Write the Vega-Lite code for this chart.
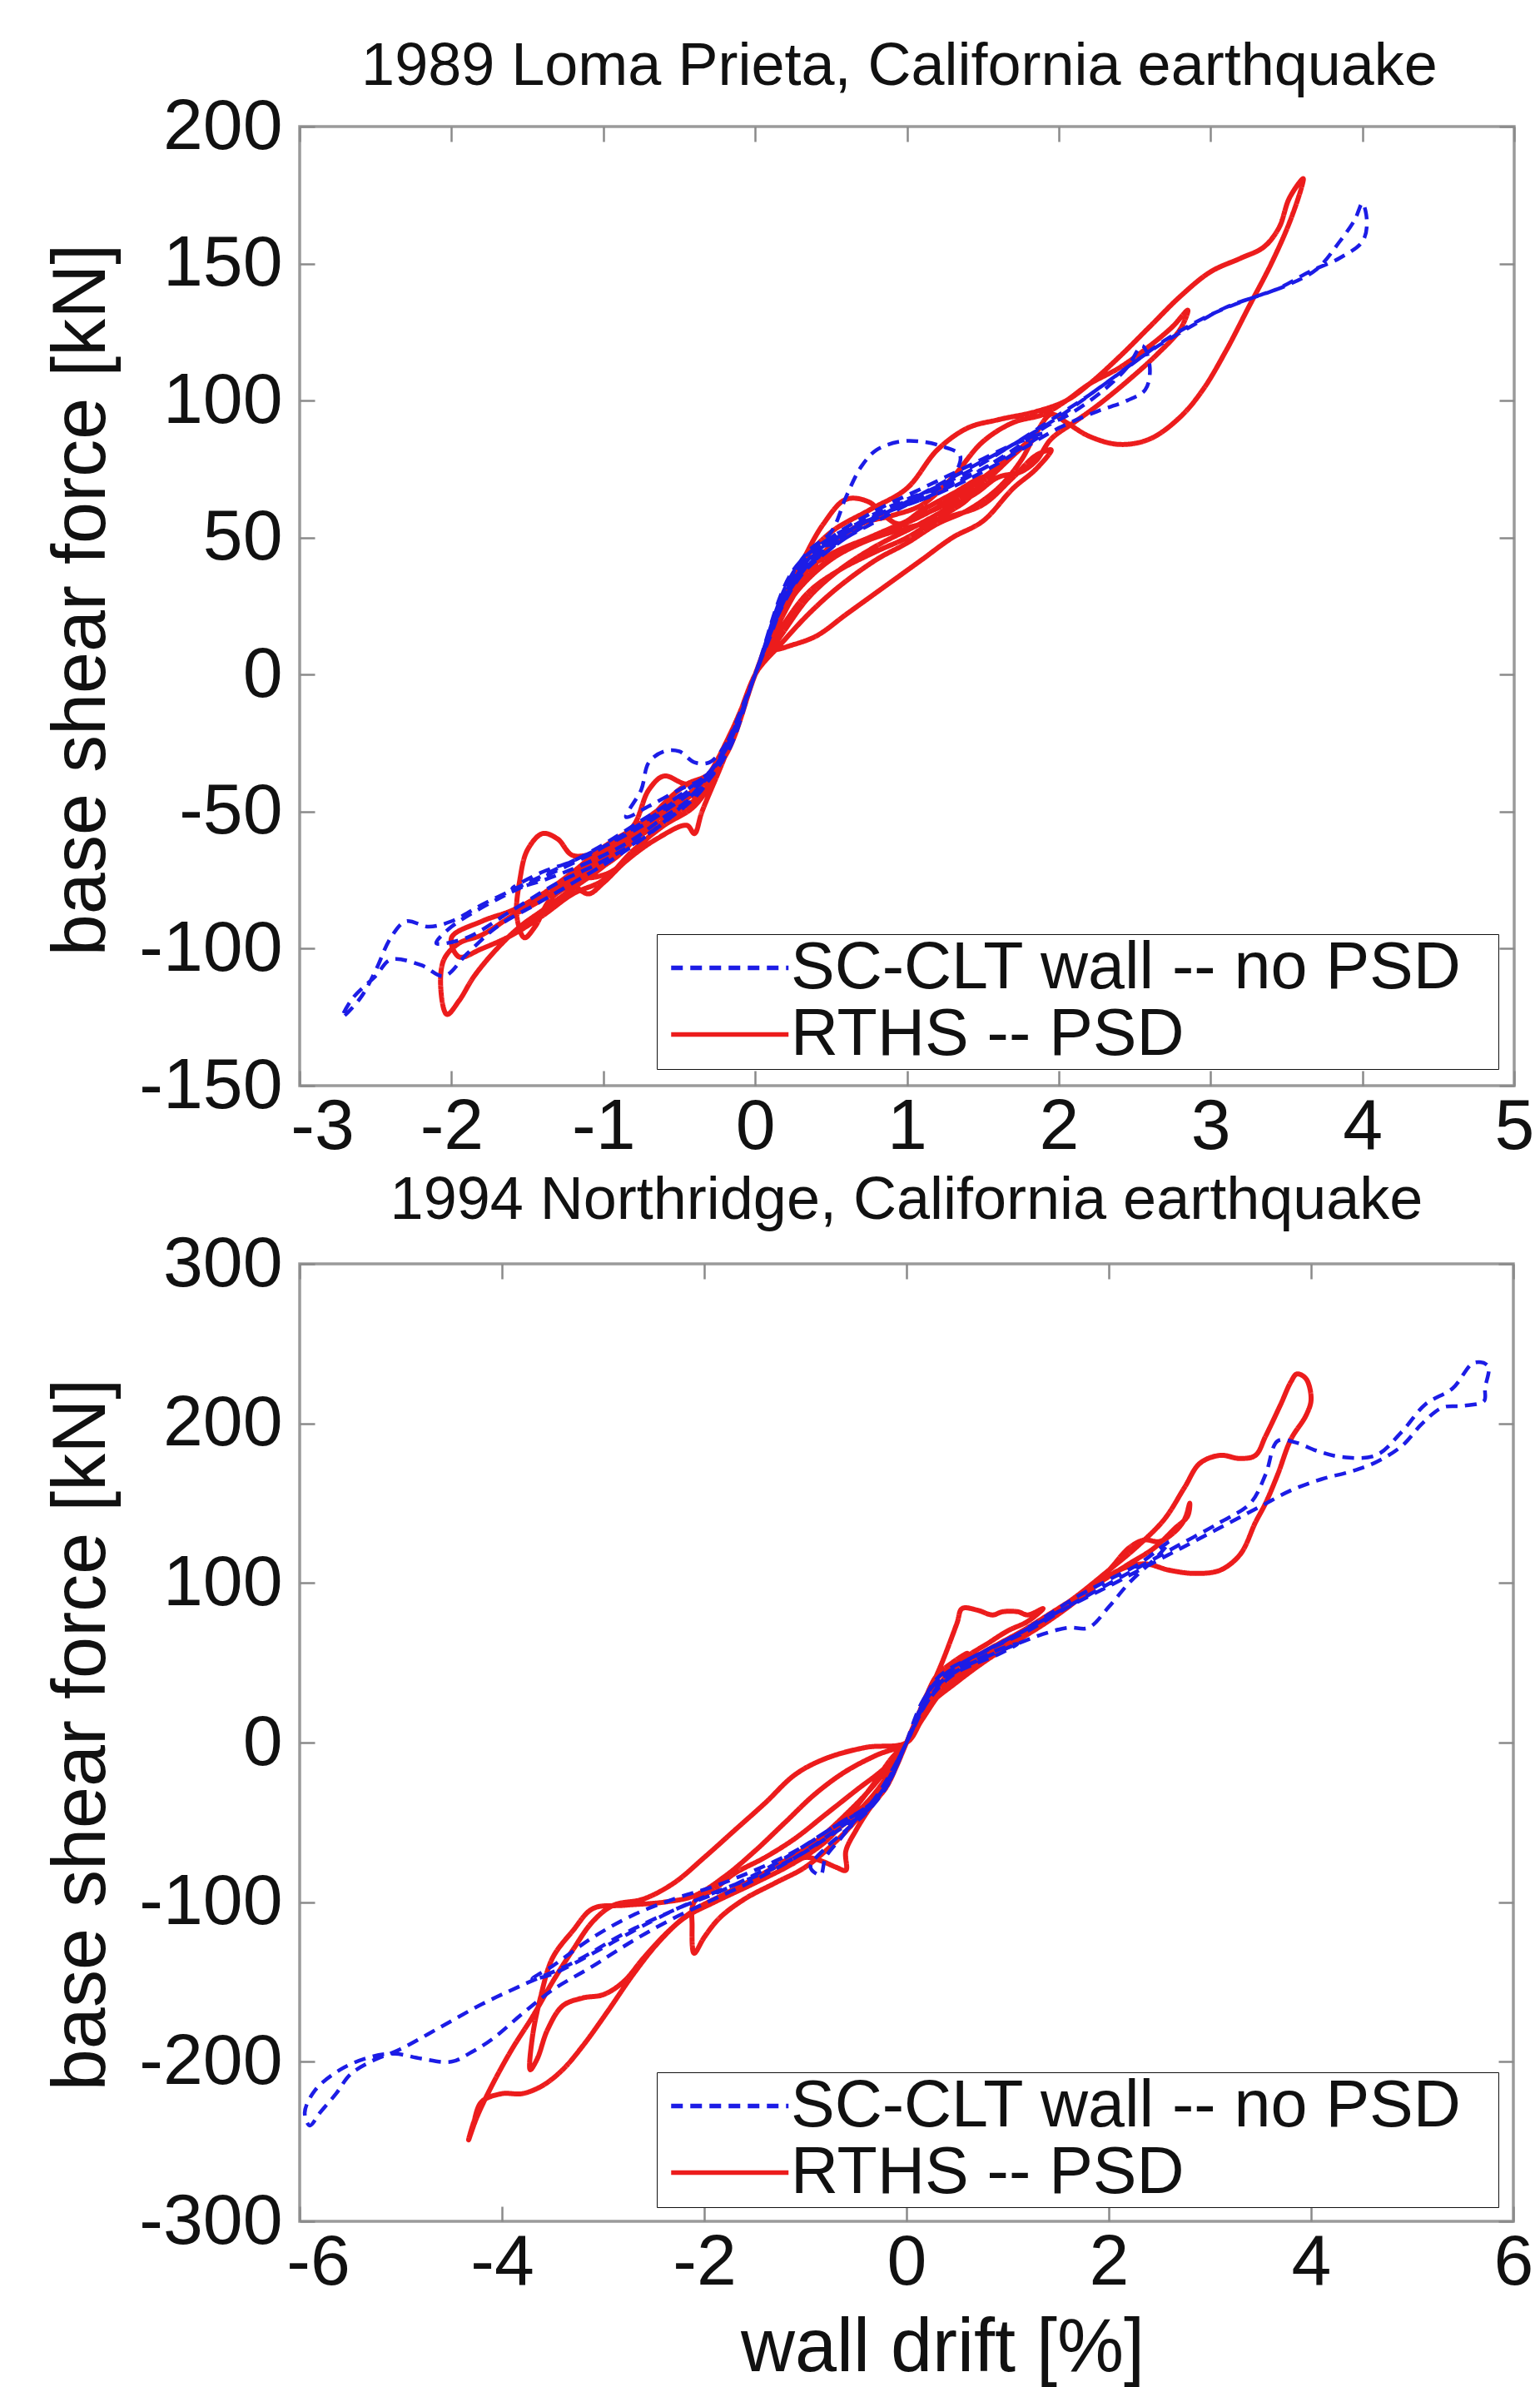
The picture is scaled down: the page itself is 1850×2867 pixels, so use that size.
{
"$schema": "https://vega.github.io/schema/vega-lite/v6.json",
"background": "white",
"padding": {"left": 51, "top": 42, "right": 10, "bottom": 0},
"spacing": 214,
"bounds": "flush",
"resolve": {"scale": {"color": "independent", "strokeDash": "independent"}, "legend": {"color": "independent", "strokeDash": "independent"}},
"config": {
  "font": "Liberation Sans",
  "view": {"stroke": "#9a9a9a", "strokeWidth": 3.5},
  "axis": {"labelFont": "Liberation Sans", "labelFontSize": 86, "labelColor": "#111111", "titleFont": "Liberation Sans", "titleFontSize": 90, "titleFontWeight": "normal", "titleColor": "#111111", "tickColor": "#8a8a8a", "tickWidth": 2.5, "tickSize": -18, "domain": false, "grid": false, "labelFlush": false, "labelOverlap": false, "labelBound": false},
  "axisX": {"labelPadding": 25},
  "axisY": {"labelPadding": 39},
  "legend": {"labelFont": "Liberation Sans", "labelFontSize": 79, "labelColor": "#111111", "symbolType": "M-1,0H3", "symbolSize": 4970, "symbolStrokeWidth": 5.5, "strokeColor": "#111111", "fillColor": "white", "padding": 1, "rowPadding": 0, "symbolOffset": 12, "labelOffset": 69, "labelLimit": 0, "titleOrient": "right", "titlePadding": 40, "titleFontSize": 10, "titleColor": "white"},
  "title": {"font": "Liberation Sans", "fontSize": 72, "fontWeight": "normal", "color": "#111111", "anchor": "middle", "frame": "group", "offset": -8, "baseline": "alphabetic"}
},
"datasets": {
"topR": [
{"s":"RTHS -- PSD","x":0,"y":0},{"s":"RTHS -- PSD","x":0.1,"y":14},{"s":"RTHS -- PSD","x":0.2,"y":28},{"s":"RTHS -- PSD","x":0.3,"y":36},{"s":"RTHS -- PSD","x":0.4,"y":40},{"s":"RTHS -- PSD","x":0.3,"y":33},{"s":"RTHS -- PSD","x":0.15,"y":18},{"s":"RTHS -- PSD","x":0,"y":0},{"s":"RTHS -- PSD","x":-0.1,"y":-14},{"s":"RTHS -- PSD","x":-0.2,"y":-28},{"s":"RTHS -- PSD","x":-0.3,"y":-38},{"s":"RTHS -- PSD","x":-0.4,"y":-45},{"s":"RTHS -- PSD","x":-0.3,"y":-40},{"s":"RTHS -- PSD","x":-0.15,"y":-22},{"s":"RTHS -- PSD","x":0,"y":0},
{"s":"RTHS -- PSD","x":0.15,"y":22},{"s":"RTHS -- PSD","x":0.3,"y":40},{"s":"RTHS -- PSD","x":0.45,"y":55},{"s":"RTHS -- PSD","x":0.6,"y":64},{"s":"RTHS -- PSD","x":0.75,"y":63},{"s":"RTHS -- PSD","x":0.85,"y":58},{"s":"RTHS -- PSD","x":0.95,"y":55},{"s":"RTHS -- PSD","x":1.1,"y":60},{"s":"RTHS -- PSD","x":1.3,"y":66},{"s":"RTHS -- PSD","x":1.5,"y":72},{"s":"RTHS -- PSD","x":1.4,"y":64},{"s":"RTHS -- PSD","x":1.2,"y":57},{"s":"RTHS -- PSD","x":1.0,"y":50},{"s":"RTHS -- PSD","x":0.8,"y":45},{"s":"RTHS -- PSD","x":0.55,"y":38},{"s":"RTHS -- PSD","x":0.35,"y":30},{"s":"RTHS -- PSD","x":0.15,"y":15},{"s":"RTHS -- PSD","x":0,"y":0},
{"s":"RTHS -- PSD","x":-0.15,"y":-22},{"s":"RTHS -- PSD","x":-0.3,"y":-38},{"s":"RTHS -- PSD","x":-0.45,"y":-40},{"s":"RTHS -- PSD","x":-0.6,"y":-37},{"s":"RTHS -- PSD","x":-0.7,"y":-42},{"s":"RTHS -- PSD","x":-0.8,"y":-55},{"s":"RTHS -- PSD","x":-0.95,"y":-62},{"s":"RTHS -- PSD","x":-1.1,"y":-68},{"s":"RTHS -- PSD","x":-1.2,"y":-75},{"s":"RTHS -- PSD","x":-1.1,"y":-80},{"s":"RTHS -- PSD","x":-1.0,"y":-76},{"s":"RTHS -- PSD","x":-0.85,"y":-68},{"s":"RTHS -- PSD","x":-0.65,"y":-60},{"s":"RTHS -- PSD","x":-0.45,"y":-55},{"s":"RTHS -- PSD","x":-0.4,"y":-58},{"s":"RTHS -- PSD","x":-0.35,"y":-50},{"s":"RTHS -- PSD","x":-0.2,"y":-30},{"s":"RTHS -- PSD","x":0,"y":0},
{"s":"RTHS -- PSD","x":0.1,"y":8},{"s":"RTHS -- PSD","x":0.2,"y":10},{"s":"RTHS -- PSD","x":0.4,"y":14},{"s":"RTHS -- PSD","x":0.6,"y":22},{"s":"RTHS -- PSD","x":0.8,"y":30},{"s":"RTHS -- PSD","x":0.95,"y":36},{"s":"RTHS -- PSD","x":1.1,"y":42},{"s":"RTHS -- PSD","x":1.3,"y":50},{"s":"RTHS -- PSD","x":1.5,"y":56},{"s":"RTHS -- PSD","x":1.7,"y":68},{"s":"RTHS -- PSD","x":1.85,"y":75},{"s":"RTHS -- PSD","x":1.95,"y":82},{"s":"RTHS -- PSD","x":1.85,"y":80},{"s":"RTHS -- PSD","x":1.7,"y":72},{"s":"RTHS -- PSD","x":1.5,"y":62},{"s":"RTHS -- PSD","x":1.3,"y":58},{"s":"RTHS -- PSD","x":1.1,"y":55},{"s":"RTHS -- PSD","x":0.9,"y":52},{"s":"RTHS -- PSD","x":0.7,"y":48},{"s":"RTHS -- PSD","x":0.5,"y":42},{"s":"RTHS -- PSD","x":0.3,"y":32},{"s":"RTHS -- PSD","x":0.15,"y":20},{"s":"RTHS -- PSD","x":0,"y":0},
{"s":"RTHS -- PSD","x":-0.2,"y":-30},{"s":"RTHS -- PSD","x":-0.4,"y":-42},{"s":"RTHS -- PSD","x":-0.6,"y":-50},{"s":"RTHS -- PSD","x":-0.8,"y":-58},{"s":"RTHS -- PSD","x":-1.0,"y":-64},{"s":"RTHS -- PSD","x":-1.2,"y":-66},{"s":"RTHS -- PSD","x":-1.3,"y":-60},{"s":"RTHS -- PSD","x":-1.4,"y":-58},{"s":"RTHS -- PSD","x":-1.5,"y":-64},{"s":"RTHS -- PSD","x":-1.55,"y":-75},{"s":"RTHS -- PSD","x":-1.57,"y":-88},{"s":"RTHS -- PSD","x":-1.52,"y":-96},{"s":"RTHS -- PSD","x":-1.45,"y":-92},{"s":"RTHS -- PSD","x":-1.35,"y":-82},{"s":"RTHS -- PSD","x":-1.2,"y":-76},{"s":"RTHS -- PSD","x":-1.05,"y":-70},{"s":"RTHS -- PSD","x":-0.85,"y":-62},{"s":"RTHS -- PSD","x":-0.65,"y":-55},{"s":"RTHS -- PSD","x":-0.45,"y":-48},{"s":"RTHS -- PSD","x":-0.3,"y":-40},{"s":"RTHS -- PSD","x":-0.15,"y":-22},{"s":"RTHS -- PSD","x":0,"y":0},
{"s":"RTHS -- PSD","x":0.15,"y":20},{"s":"RTHS -- PSD","x":0.3,"y":35},{"s":"RTHS -- PSD","x":0.5,"y":47},{"s":"RTHS -- PSD","x":0.7,"y":55},{"s":"RTHS -- PSD","x":0.9,"y":58},{"s":"RTHS -- PSD","x":1.1,"y":62},{"s":"RTHS -- PSD","x":1.3,"y":72},{"s":"RTHS -- PSD","x":1.5,"y":85},{"s":"RTHS -- PSD","x":1.7,"y":92},{"s":"RTHS -- PSD","x":1.9,"y":95},{"s":"RTHS -- PSD","x":2.05,"y":100},{"s":"RTHS -- PSD","x":2.2,"y":106},{"s":"RTHS -- PSD","x":2.4,"y":112},{"s":"RTHS -- PSD","x":2.6,"y":120},{"s":"RTHS -- PSD","x":2.75,"y":127},{"s":"RTHS -- PSD","x":2.85,"y":133},{"s":"RTHS -- PSD","x":2.8,"y":126},{"s":"RTHS -- PSD","x":2.65,"y":117},{"s":"RTHS -- PSD","x":2.45,"y":107},{"s":"RTHS -- PSD","x":2.25,"y":98},{"s":"RTHS -- PSD","x":2.1,"y":92},{"s":"RTHS -- PSD","x":1.95,"y":86},{"s":"RTHS -- PSD","x":1.85,"y":78},{"s":"RTHS -- PSD","x":1.75,"y":74},{"s":"RTHS -- PSD","x":1.6,"y":72},{"s":"RTHS -- PSD","x":1.45,"y":66},{"s":"RTHS -- PSD","x":1.25,"y":60},{"s":"RTHS -- PSD","x":1.05,"y":54},{"s":"RTHS -- PSD","x":0.8,"y":47},{"s":"RTHS -- PSD","x":0.55,"y":38},{"s":"RTHS -- PSD","x":0.35,"y":28},{"s":"RTHS -- PSD","x":0.18,"y":15},{"s":"RTHS -- PSD","x":0,"y":0},
{"s":"RTHS -- PSD","x":-0.2,"y":-28},{"s":"RTHS -- PSD","x":-0.4,"y":-42},{"s":"RTHS -- PSD","x":-0.65,"y":-52},{"s":"RTHS -- PSD","x":-0.9,"y":-62},{"s":"RTHS -- PSD","x":-1.15,"y":-72},{"s":"RTHS -- PSD","x":-1.4,"y":-82},{"s":"RTHS -- PSD","x":-1.6,"y":-88},{"s":"RTHS -- PSD","x":-1.8,"y":-95},{"s":"RTHS -- PSD","x":-1.95,"y":-98},{"s":"RTHS -- PSD","x":-2.05,"y":-104},{"s":"RTHS -- PSD","x":-2.07,"y":-115},{"s":"RTHS -- PSD","x":-2.03,"y":-124},{"s":"RTHS -- PSD","x":-1.95,"y":-119},{"s":"RTHS -- PSD","x":-1.85,"y":-110},{"s":"RTHS -- PSD","x":-1.7,"y":-100},{"s":"RTHS -- PSD","x":-1.55,"y":-92},{"s":"RTHS -- PSD","x":-1.4,"y":-86},{"s":"RTHS -- PSD","x":-1.2,"y":-78},{"s":"RTHS -- PSD","x":-1.0,"y":-70},{"s":"RTHS -- PSD","x":-0.8,"y":-60},{"s":"RTHS -- PSD","x":-0.6,"y":-47},{"s":"RTHS -- PSD","x":-0.45,"y":-40},{"s":"RTHS -- PSD","x":-0.3,"y":-36},{"s":"RTHS -- PSD","x":-0.15,"y":-20},{"s":"RTHS -- PSD","x":0,"y":0},
{"s":"RTHS -- PSD","x":0.15,"y":22},{"s":"RTHS -- PSD","x":0.3,"y":40},{"s":"RTHS -- PSD","x":0.5,"y":52},{"s":"RTHS -- PSD","x":0.75,"y":60},{"s":"RTHS -- PSD","x":1.0,"y":68},{"s":"RTHS -- PSD","x":1.2,"y":82},{"s":"RTHS -- PSD","x":1.4,"y":90},{"s":"RTHS -- PSD","x":1.6,"y":93},{"s":"RTHS -- PSD","x":1.85,"y":96},{"s":"RTHS -- PSD","x":2.05,"y":100},{"s":"RTHS -- PSD","x":2.2,"y":106},{"s":"RTHS -- PSD","x":2.4,"y":116},{"s":"RTHS -- PSD","x":2.6,"y":127},{"s":"RTHS -- PSD","x":2.8,"y":138},{"s":"RTHS -- PSD","x":3.0,"y":147},{"s":"RTHS -- PSD","x":3.2,"y":152},{"s":"RTHS -- PSD","x":3.35,"y":156},{"s":"RTHS -- PSD","x":3.45,"y":163},{"s":"RTHS -- PSD","x":3.52,"y":174},{"s":"RTHS -- PSD","x":3.61,"y":181},{"s":"RTHS -- PSD","x":3.6,"y":178},{"s":"RTHS -- PSD","x":3.52,"y":165},{"s":"RTHS -- PSD","x":3.4,"y":150},{"s":"RTHS -- PSD","x":3.25,"y":134},{"s":"RTHS -- PSD","x":3.1,"y":118},{"s":"RTHS -- PSD","x":2.95,"y":104},{"s":"RTHS -- PSD","x":2.8,"y":94},{"s":"RTHS -- PSD","x":2.6,"y":86},{"s":"RTHS -- PSD","x":2.4,"y":84},{"s":"RTHS -- PSD","x":2.2,"y":87},{"s":"RTHS -- PSD","x":2.05,"y":92},{"s":"RTHS -- PSD","x":1.95,"y":95},{"s":"RTHS -- PSD","x":1.85,"y":88},{"s":"RTHS -- PSD","x":1.75,"y":78},{"s":"RTHS -- PSD","x":1.6,"y":68},{"s":"RTHS -- PSD","x":1.4,"y":60},{"s":"RTHS -- PSD","x":1.2,"y":55},{"s":"RTHS -- PSD","x":1.0,"y":48},{"s":"RTHS -- PSD","x":0.8,"y":42},{"s":"RTHS -- PSD","x":0.55,"y":32},{"s":"RTHS -- PSD","x":0.35,"y":22},{"s":"RTHS -- PSD","x":0.15,"y":10},{"s":"RTHS -- PSD","x":0.05,"y":4},{"s":"RTHS -- PSD","x":0,"y":0},
{"s":"RTHS -- PSD","x":-0.2,"y":-28},{"s":"RTHS -- PSD","x":-0.4,"y":-42},{"s":"RTHS -- PSD","x":-0.6,"y":-48},{"s":"RTHS -- PSD","x":-0.8,"y":-56},{"s":"RTHS -- PSD","x":-1.0,"y":-63},{"s":"RTHS -- PSD","x":-1.2,"y":-72},{"s":"RTHS -- PSD","x":-1.4,"y":-80},{"s":"RTHS -- PSD","x":-1.6,"y":-86},{"s":"RTHS -- PSD","x":-1.8,"y":-90},{"s":"RTHS -- PSD","x":-2.0,"y":-96},{"s":"RTHS -- PSD","x":-1.95,"y":-103},{"s":"RTHS -- PSD","x":-1.8,"y":-100},{"s":"RTHS -- PSD","x":-1.6,"y":-95},
{"s":"RTHS -- PSD","x":-1.4,"y":-88},{"s":"RTHS -- PSD","x":-1.2,"y":-80},{"s":"RTHS -- PSD","x":-1.0,"y":-75},{"s":"RTHS -- PSD","x":-0.8,"y":-64},{"s":"RTHS -- PSD","x":-0.6,"y":-55},{"s":"RTHS -- PSD","x":-0.4,"y":-48},{"s":"RTHS -- PSD","x":-0.25,"y":-35},{"s":"RTHS -- PSD","x":0,"y":0},{"s":"RTHS -- PSD","x":0.2,"y":25},{"s":"RTHS -- PSD","x":0.4,"y":38},{"s":"RTHS -- PSD","x":0.6,"y":46},{"s":"RTHS -- PSD","x":0.85,"y":52},{"s":"RTHS -- PSD","x":1.1,"y":58},{"s":"RTHS -- PSD","x":1.35,"y":66},{"s":"RTHS -- PSD","x":1.6,"y":76},{"s":"RTHS -- PSD","x":1.8,"y":85},{"s":"RTHS -- PSD","x":1.7,"y":80},{"s":"RTHS -- PSD","x":1.5,"y":70},{"s":"RTHS -- PSD","x":1.25,"y":62},{"s":"RTHS -- PSD","x":1.0,"y":56},{"s":"RTHS -- PSD","x":0.75,"y":50},{"s":"RTHS -- PSD","x":0.5,"y":44},{"s":"RTHS -- PSD","x":0.3,"y":36},{"s":"RTHS -- PSD","x":0.1,"y":12},{"s":"RTHS -- PSD","x":0,"y":0},{"s":"RTHS -- PSD","x":-0.2,"y":-30},{"s":"RTHS -- PSD","x":-0.45,"y":-45},{"s":"RTHS -- PSD","x":-0.7,"y":-55},{"s":"RTHS -- PSD","x":-0.9,"y":-66},{"s":"RTHS -- PSD","x":-1.1,"y":-74},{"s":"RTHS -- PSD","x":-0.95,"y":-72},{"s":"RTHS -- PSD","x":-0.75,"y":-62},{"s":"RTHS -- PSD","x":-0.55,"y":-50},{"s":"RTHS -- PSD","x":-0.35,"y":-40},{"s":"RTHS -- PSD","x":-0.15,"y":-20},{"s":"RTHS -- PSD","x":0,"y":0}
],
"topB": [
{"s":"SC-CLT wall -- no PSD","x":0,"y":0},{"s":"SC-CLT wall -- no PSD","x":0.1,"y":16},{"s":"SC-CLT wall -- no PSD","x":0.2,"y":30},{"s":"SC-CLT wall -- no PSD","x":0.3,"y":38},{"s":"SC-CLT wall -- no PSD","x":0.4,"y":42},{"s":"SC-CLT wall -- no PSD","x":0.5,"y":48},{"s":"SC-CLT wall -- no PSD","x":0.6,"y":52},{"s":"SC-CLT wall -- no PSD","x":0.5,"y":46},{"s":"SC-CLT wall -- no PSD","x":0.35,"y":40},{"s":"SC-CLT wall -- no PSD","x":0.2,"y":28},{"s":"SC-CLT wall -- no PSD","x":0.1,"y":14},{"s":"SC-CLT wall -- no PSD","x":0,"y":0},
{"s":"SC-CLT wall -- no PSD","x":-0.1,"y":-15},{"s":"SC-CLT wall -- no PSD","x":-0.2,"y":-26},{"s":"SC-CLT wall -- no PSD","x":-0.3,"y":-32},{"s":"SC-CLT wall -- no PSD","x":-0.4,"y":-32},{"s":"SC-CLT wall -- no PSD","x":-0.5,"y":-28},{"s":"SC-CLT wall -- no PSD","x":-0.6,"y":-28},{"s":"SC-CLT wall -- no PSD","x":-0.7,"y":-32},{"s":"SC-CLT wall -- no PSD","x":-0.75,"y":-42},{"s":"SC-CLT wall -- no PSD","x":-0.85,"y":-52},{"s":"SC-CLT wall -- no PSD","x":-0.7,"y":-48},{"s":"SC-CLT wall -- no PSD","x":-0.5,"y":-42},{"s":"SC-CLT wall -- no PSD","x":-0.35,"y":-38},{"s":"SC-CLT wall -- no PSD","x":-0.2,"y":-28},{"s":"SC-CLT wall -- no PSD","x":0,"y":0},
{"s":"SC-CLT wall -- no PSD","x":0.2,"y":32},{"s":"SC-CLT wall -- no PSD","x":0.35,"y":45},{"s":"SC-CLT wall -- no PSD","x":0.5,"y":52},{"s":"SC-CLT wall -- no PSD","x":0.6,"y":65},{"s":"SC-CLT wall -- no PSD","x":0.7,"y":76},{"s":"SC-CLT wall -- no PSD","x":0.8,"y":82},{"s":"SC-CLT wall -- no PSD","x":0.95,"y":85},{"s":"SC-CLT wall -- no PSD","x":1.1,"y":85},{"s":"SC-CLT wall -- no PSD","x":1.25,"y":83},{"s":"SC-CLT wall -- no PSD","x":1.35,"y":80},{"s":"SC-CLT wall -- no PSD","x":1.3,"y":72},{"s":"SC-CLT wall -- no PSD","x":1.15,"y":66},{"s":"SC-CLT wall -- no PSD","x":1.0,"y":62},{"s":"SC-CLT wall -- no PSD","x":0.8,"y":56},{"s":"SC-CLT wall -- no PSD","x":0.6,"y":50},{"s":"SC-CLT wall -- no PSD","x":0.4,"y":43},{"s":"SC-CLT wall -- no PSD","x":0.2,"y":28},{"s":"SC-CLT wall -- no PSD","x":0,"y":0},
{"s":"SC-CLT wall -- no PSD","x":-0.2,"y":-30},{"s":"SC-CLT wall -- no PSD","x":-0.4,"y":-40},{"s":"SC-CLT wall -- no PSD","x":-0.6,"y":-48},{"s":"SC-CLT wall -- no PSD","x":-0.8,"y":-55},{"s":"SC-CLT wall -- no PSD","x":-1.0,"y":-62},{"s":"SC-CLT wall -- no PSD","x":-1.2,"y":-68},{"s":"SC-CLT wall -- no PSD","x":-1.4,"y":-72},{"s":"SC-CLT wall -- no PSD","x":-1.6,"y":-78},{"s":"SC-CLT wall -- no PSD","x":-1.45,"y":-76},{"s":"SC-CLT wall -- no PSD","x":-1.25,"y":-72},{"s":"SC-CLT wall -- no PSD","x":-1.0,"y":-66},{"s":"SC-CLT wall -- no PSD","x":-0.8,"y":-60},{"s":"SC-CLT wall -- no PSD","x":-0.6,"y":-52},{"s":"SC-CLT wall -- no PSD","x":-0.4,"y":-44},{"s":"SC-CLT wall -- no PSD","x":-0.2,"y":-30},{"s":"SC-CLT wall -- no PSD","x":0,"y":0},
{"s":"SC-CLT wall -- no PSD","x":0.25,"y":38},{"s":"SC-CLT wall -- no PSD","x":0.5,"y":50},{"s":"SC-CLT wall -- no PSD","x":0.8,"y":58},{"s":"SC-CLT wall -- no PSD","x":1.1,"y":64},{"s":"SC-CLT wall -- no PSD","x":1.4,"y":72},{"s":"SC-CLT wall -- no PSD","x":1.7,"y":82},{"s":"SC-CLT wall -- no PSD","x":1.9,"y":90},{"s":"SC-CLT wall -- no PSD","x":2.1,"y":96},{"s":"SC-CLT wall -- no PSD","x":2.3,"y":104},{"s":"SC-CLT wall -- no PSD","x":2.45,"y":112},{"s":"SC-CLT wall -- no PSD","x":2.55,"y":120},{"s":"SC-CLT wall -- no PSD","x":2.6,"y":112},{"s":"SC-CLT wall -- no PSD","x":2.57,"y":104},{"s":"SC-CLT wall -- no PSD","x":2.45,"y":100},{"s":"SC-CLT wall -- no PSD","x":2.25,"y":96},{"s":"SC-CLT wall -- no PSD","x":2.0,"y":90},{"s":"SC-CLT wall -- no PSD","x":1.75,"y":82},{"s":"SC-CLT wall -- no PSD","x":1.5,"y":74},{"s":"SC-CLT wall -- no PSD","x":1.2,"y":66},{"s":"SC-CLT wall -- no PSD","x":0.9,"y":60},{"s":"SC-CLT wall -- no PSD","x":0.6,"y":52},{"s":"SC-CLT wall -- no PSD","x":0.35,"y":42},{"s":"SC-CLT wall -- no PSD","x":0.15,"y":22},{"s":"SC-CLT wall -- no PSD","x":0,"y":0},
{"s":"SC-CLT wall -- no PSD","x":-0.3,"y":-36},{"s":"SC-CLT wall -- no PSD","x":-0.6,"y":-50},{"s":"SC-CLT wall -- no PSD","x":-0.9,"y":-60},{"s":"SC-CLT wall -- no PSD","x":-1.2,"y":-68},{"s":"SC-CLT wall -- no PSD","x":-1.5,"y":-76},{"s":"SC-CLT wall -- no PSD","x":-1.8,"y":-84},{"s":"SC-CLT wall -- no PSD","x":-2.0,"y":-90},{"s":"SC-CLT wall -- no PSD","x":-2.15,"y":-92},{"s":"SC-CLT wall -- no PSD","x":-2.3,"y":-90},{"s":"SC-CLT wall -- no PSD","x":-2.4,"y":-96},{"s":"SC-CLT wall -- no PSD","x":-2.5,"y":-108},{"s":"SC-CLT wall -- no PSD","x":-2.6,"y":-118},{"s":"SC-CLT wall -- no PSD","x":-2.72,"y":-125},{"s":"SC-CLT wall -- no PSD","x":-2.65,"y":-118},{"s":"SC-CLT wall -- no PSD","x":-2.5,"y":-110},{"s":"SC-CLT wall -- no PSD","x":-2.4,"y":-104},{"s":"SC-CLT wall -- no PSD","x":-2.2,"y":-106},{"s":"SC-CLT wall -- no PSD","x":-2.05,"y":-110},{"s":"SC-CLT wall -- no PSD","x":-1.9,"y":-102},{"s":"SC-CLT wall -- no PSD","x":-1.7,"y":-92},{"s":"SC-CLT wall -- no PSD","x":-1.45,"y":-84},{"s":"SC-CLT wall -- no PSD","x":-1.2,"y":-76},{"s":"SC-CLT wall -- no PSD","x":-0.9,"y":-66},{"s":"SC-CLT wall -- no PSD","x":-0.6,"y":-54},{"s":"SC-CLT wall -- no PSD","x":-0.35,"y":-42},{"s":"SC-CLT wall -- no PSD","x":-0.15,"y":-22},{"s":"SC-CLT wall -- no PSD","x":0,"y":0},
{"s":"SC-CLT wall -- no PSD","x":0.25,"y":36},{"s":"SC-CLT wall -- no PSD","x":0.5,"y":48},{"s":"SC-CLT wall -- no PSD","x":0.8,"y":58},{"s":"SC-CLT wall -- no PSD","x":1.1,"y":66},{"s":"SC-CLT wall -- no PSD","x":1.4,"y":74},{"s":"SC-CLT wall -- no PSD","x":1.7,"y":84},{"s":"SC-CLT wall -- no PSD","x":2.0,"y":94},{"s":"SC-CLT wall -- no PSD","x":2.3,"y":106},{"s":"SC-CLT wall -- no PSD","x":2.6,"y":118},{"s":"SC-CLT wall -- no PSD","x":2.9,"y":128},{"s":"SC-CLT wall -- no PSD","x":3.1,"y":134},{"s":"SC-CLT wall -- no PSD","x":3.3,"y":138},{"s":"SC-CLT wall -- no PSD","x":3.5,"y":142},{"s":"SC-CLT wall -- no PSD","x":3.7,"y":148},{"s":"SC-CLT wall -- no PSD","x":3.85,"y":158},{"s":"SC-CLT wall -- no PSD","x":3.95,"y":166},{"s":"SC-CLT wall -- no PSD","x":4.0,"y":172},{"s":"SC-CLT wall -- no PSD","x":4.03,"y":165},{"s":"SC-CLT wall -- no PSD","x":4.0,"y":158},{"s":"SC-CLT wall -- no PSD","x":3.85,"y":152},{"s":"SC-CLT wall -- no PSD","x":3.65,"y":147},{"s":"SC-CLT wall -- no PSD","x":3.45,"y":141},{"s":"SC-CLT wall -- no PSD","x":3.2,"y":136},{"s":"SC-CLT wall -- no PSD","x":2.95,"y":130},{"s":"SC-CLT wall -- no PSD","x":2.7,"y":122},{"s":"SC-CLT wall -- no PSD","x":2.45,"y":112},{"s":"SC-CLT wall -- no PSD","x":2.2,"y":102},{"s":"SC-CLT wall -- no PSD","x":1.95,"y":93},{"s":"SC-CLT wall -- no PSD","x":1.7,"y":84},{"s":"SC-CLT wall -- no PSD","x":1.4,"y":75},{"s":"SC-CLT wall -- no PSD","x":1.1,"y":66},{"s":"SC-CLT wall -- no PSD","x":0.8,"y":57},{"s":"SC-CLT wall -- no PSD","x":0.5,"y":46},{"s":"SC-CLT wall -- no PSD","x":0.3,"y":36},{"s":"SC-CLT wall -- no PSD","x":0.12,"y":18},{"s":"SC-CLT wall -- no PSD","x":0,"y":0},
{"s":"SC-CLT wall -- no PSD","x":-0.25,"y":-32},{"s":"SC-CLT wall -- no PSD","x":-0.5,"y":-45},{"s":"SC-CLT wall -- no PSD","x":-0.8,"y":-56},{"s":"SC-CLT wall -- no PSD","x":-1.1,"y":-66},{"s":"SC-CLT wall -- no PSD","x":-1.4,"y":-74},{"s":"SC-CLT wall -- no PSD","x":-1.7,"y":-82},{"s":"SC-CLT wall -- no PSD","x":-2.0,"y":-92},{"s":"SC-CLT wall -- no PSD","x":-2.1,"y":-98},
{"s":"SC-CLT wall -- no PSD","x":-1.9,"y":-96},{"s":"SC-CLT wall -- no PSD","x":-1.6,"y":-86},{"s":"SC-CLT wall -- no PSD","x":-1.3,"y":-76},{"s":"SC-CLT wall -- no PSD","x":-1.0,"y":-68},{"s":"SC-CLT wall -- no PSD","x":-0.7,"y":-58},{"s":"SC-CLT wall -- no PSD","x":-0.45,"y":-46},{"s":"SC-CLT wall -- no PSD","x":-0.2,"y":-28},{"s":"SC-CLT wall -- no PSD","x":0,"y":0},{"s":"SC-CLT wall -- no PSD","x":0.2,"y":30},{"s":"SC-CLT wall -- no PSD","x":0.4,"y":44},{"s":"SC-CLT wall -- no PSD","x":0.7,"y":56},{"s":"SC-CLT wall -- no PSD","x":1.0,"y":64},{"s":"SC-CLT wall -- no PSD","x":1.3,"y":70},{"s":"SC-CLT wall -- no PSD","x":1.6,"y":78},{"s":"SC-CLT wall -- no PSD","x":1.9,"y":88},{"s":"SC-CLT wall -- no PSD","x":1.7,"y":84},{"s":"SC-CLT wall -- no PSD","x":1.4,"y":76},{"s":"SC-CLT wall -- no PSD","x":1.1,"y":68},{"s":"SC-CLT wall -- no PSD","x":0.8,"y":60},{"s":"SC-CLT wall -- no PSD","x":0.5,"y":50},{"s":"SC-CLT wall -- no PSD","x":0.3,"y":40},{"s":"SC-CLT wall -- no PSD","x":0.1,"y":15},{"s":"SC-CLT wall -- no PSD","x":0,"y":0}
],
"botR": [
{"s":"RTHS -- PSD","x":0,"y":0},{"s":"RTHS -- PSD","x":0.1,"y":15},{"s":"RTHS -- PSD","x":0.2,"y":30},{"s":"RTHS -- PSD","x":0.3,"y":42},{"s":"RTHS -- PSD","x":0.45,"y":50},{"s":"RTHS -- PSD","x":0.6,"y":56},{"s":"RTHS -- PSD","x":0.5,"y":50},{"s":"RTHS -- PSD","x":0.3,"y":40},{"s":"RTHS -- PSD","x":0.15,"y":22},{"s":"RTHS -- PSD","x":0,"y":0},
{"s":"RTHS -- PSD","x":-0.1,"y":-15},{"s":"RTHS -- PSD","x":-0.2,"y":-28},{"s":"RTHS -- PSD","x":-0.35,"y":-40},{"s":"RTHS -- PSD","x":-0.5,"y":-55},{"s":"RTHS -- PSD","x":-0.6,"y":-68},{"s":"RTHS -- PSD","x":-0.6,"y":-80},{"s":"RTHS -- PSD","x":-0.7,"y":-78},{"s":"RTHS -- PSD","x":-0.85,"y":-74},{"s":"RTHS -- PSD","x":-1.0,"y":-72},{"s":"RTHS -- PSD","x":-1.2,"y":-78},{"s":"RTHS -- PSD","x":-1.0,"y":-70},{"s":"RTHS -- PSD","x":-0.8,"y":-60},{"s":"RTHS -- PSD","x":-0.6,"y":-50},{"s":"RTHS -- PSD","x":-0.4,"y":-38},{"s":"RTHS -- PSD","x":-0.2,"y":-22},{"s":"RTHS -- PSD","x":0,"y":0},
{"s":"RTHS -- PSD","x":0.1,"y":12},{"s":"RTHS -- PSD","x":0.2,"y":28},{"s":"RTHS -- PSD","x":0.35,"y":50},{"s":"RTHS -- PSD","x":0.5,"y":75},{"s":"RTHS -- PSD","x":0.55,"y":84},{"s":"RTHS -- PSD","x":0.7,"y":83},{"s":"RTHS -- PSD","x":0.85,"y":80},{"s":"RTHS -- PSD","x":0.95,"y":82},{"s":"RTHS -- PSD","x":1.1,"y":82},{"s":"RTHS -- PSD","x":1.2,"y":80},{"s":"RTHS -- PSD","x":1.35,"y":84},{"s":"RTHS -- PSD","x":1.2,"y":76},{"s":"RTHS -- PSD","x":1.0,"y":70},{"s":"RTHS -- PSD","x":0.8,"y":62},{"s":"RTHS -- PSD","x":0.6,"y":54},{"s":"RTHS -- PSD","x":0.4,"y":42},{"s":"RTHS -- PSD","x":0.2,"y":25},{"s":"RTHS -- PSD","x":0,"y":0},
{"s":"RTHS -- PSD","x":-0.2,"y":-15},{"s":"RTHS -- PSD","x":-0.5,"y":-30},{"s":"RTHS -- PSD","x":-0.8,"y":-45},{"s":"RTHS -- PSD","x":-1.1,"y":-60},{"s":"RTHS -- PSD","x":-1.4,"y":-72},{"s":"RTHS -- PSD","x":-1.7,"y":-82},{"s":"RTHS -- PSD","x":-1.9,"y":-92},{"s":"RTHS -- PSD","x":-2.1,"y":-100},{"s":"RTHS -- PSD","x":-2.12,"y":-115},{"s":"RTHS -- PSD","x":-2.1,"y":-132},{"s":"RTHS -- PSD","x":-2.0,"y":-122},{"s":"RTHS -- PSD","x":-1.85,"y":-110},{"s":"RTHS -- PSD","x":-1.6,"y":-98},{"s":"RTHS -- PSD","x":-1.3,"y":-88},{"s":"RTHS -- PSD","x":-1.0,"y":-78},{"s":"RTHS -- PSD","x":-0.7,"y":-62},{"s":"RTHS -- PSD","x":-0.45,"y":-45},{"s":"RTHS -- PSD","x":-0.2,"y":-24},{"s":"RTHS -- PSD","x":0,"y":0},
{"s":"RTHS -- PSD","x":0.2,"y":22},{"s":"RTHS -- PSD","x":0.5,"y":38},{"s":"RTHS -- PSD","x":0.8,"y":52},{"s":"RTHS -- PSD","x":1.1,"y":64},{"s":"RTHS -- PSD","x":1.4,"y":76},{"s":"RTHS -- PSD","x":1.7,"y":90},{"s":"RTHS -- PSD","x":2.0,"y":108},{"s":"RTHS -- PSD","x":2.2,"y":122},{"s":"RTHS -- PSD","x":2.35,"y":127},{"s":"RTHS -- PSD","x":2.5,"y":126},{"s":"RTHS -- PSD","x":2.65,"y":132},{"s":"RTHS -- PSD","x":2.75,"y":140},{"s":"RTHS -- PSD","x":2.8,"y":150},{"s":"RTHS -- PSD","x":2.78,"y":142},{"s":"RTHS -- PSD","x":2.65,"y":134},{"s":"RTHS -- PSD","x":2.45,"y":122},{"s":"RTHS -- PSD","x":2.2,"y":112},{"s":"RTHS -- PSD","x":1.9,"y":100},{"s":"RTHS -- PSD","x":1.6,"y":88},{"s":"RTHS -- PSD","x":1.3,"y":76},{"s":"RTHS -- PSD","x":1.0,"y":64},{"s":"RTHS -- PSD","x":0.7,"y":52},{"s":"RTHS -- PSD","x":0.4,"y":38},{"s":"RTHS -- PSD","x":0.15,"y":15},{"s":"RTHS -- PSD","x":0,"y":0},
{"s":"RTHS -- PSD","x":-0.3,"y":-8},{"s":"RTHS -- PSD","x":-0.6,"y":-18},{"s":"RTHS -- PSD","x":-0.9,"y":-32},{"s":"RTHS -- PSD","x":-1.2,"y":-50},{"s":"RTHS -- PSD","x":-1.5,"y":-68},{"s":"RTHS -- PSD","x":-1.8,"y":-84},{"s":"RTHS -- PSD","x":-2.1,"y":-96},{"s":"RTHS -- PSD","x":-2.4,"y":-100},{"s":"RTHS -- PSD","x":-2.8,"y":-102},{"s":"RTHS -- PSD","x":-3.1,"y":-104},{"s":"RTHS -- PSD","x":-3.3,"y":-118},{"s":"RTHS -- PSD","x":-3.5,"y":-135},{"s":"RTHS -- PSD","x":-3.62,"y":-160},{"s":"RTHS -- PSD","x":-3.7,"y":-185},{"s":"RTHS -- PSD","x":-3.72,"y":-205},{"s":"RTHS -- PSD","x":-3.65,"y":-198},{"s":"RTHS -- PSD","x":-3.55,"y":-180},{"s":"RTHS -- PSD","x":-3.4,"y":-165},{"s":"RTHS -- PSD","x":-3.2,"y":-160},{"s":"RTHS -- PSD","x":-3.0,"y":-158},{"s":"RTHS -- PSD","x":-2.8,"y":-150},{"s":"RTHS -- PSD","x":-2.6,"y":-135},{"s":"RTHS -- PSD","x":-2.35,"y":-118},{"s":"RTHS -- PSD","x":-2.1,"y":-105},{"s":"RTHS -- PSD","x":-1.8,"y":-95},{"s":"RTHS -- PSD","x":-1.5,"y":-85},{"s":"RTHS -- PSD","x":-1.2,"y":-74},{"s":"RTHS -- PSD","x":-0.9,"y":-62},{"s":"RTHS -- PSD","x":-0.6,"y":-45},{"s":"RTHS -- PSD","x":-0.3,"y":-25},{"s":"RTHS -- PSD","x":0,"y":0},
{"s":"RTHS -- PSD","x":0.2,"y":25},{"s":"RTHS -- PSD","x":0.45,"y":45},{"s":"RTHS -- PSD","x":0.8,"y":58},{"s":"RTHS -- PSD","x":1.2,"y":72},{"s":"RTHS -- PSD","x":1.6,"y":88},{"s":"RTHS -- PSD","x":2.0,"y":108},{"s":"RTHS -- PSD","x":2.3,"y":124},{"s":"RTHS -- PSD","x":2.55,"y":140},{"s":"RTHS -- PSD","x":2.75,"y":160},{"s":"RTHS -- PSD","x":2.9,"y":175},{"s":"RTHS -- PSD","x":3.1,"y":180},{"s":"RTHS -- PSD","x":3.3,"y":178},{"s":"RTHS -- PSD","x":3.45,"y":180},{"s":"RTHS -- PSD","x":3.55,"y":192},{"s":"RTHS -- PSD","x":3.7,"y":212},{"s":"RTHS -- PSD","x":3.8,"y":226},{"s":"RTHS -- PSD","x":3.86,"y":231},{"s":"RTHS -- PSD","x":3.95,"y":228},{"s":"RTHS -- PSD","x":4.0,"y":215},{"s":"RTHS -- PSD","x":3.95,"y":205},{"s":"RTHS -- PSD","x":3.8,"y":190},{"s":"RTHS -- PSD","x":3.67,"y":168},{"s":"RTHS -- PSD","x":3.55,"y":150},{"s":"RTHS -- PSD","x":3.45,"y":138},{"s":"RTHS -- PSD","x":3.3,"y":118},{"s":"RTHS -- PSD","x":3.1,"y":108},{"s":"RTHS -- PSD","x":2.85,"y":106},{"s":"RTHS -- PSD","x":2.6,"y":108},{"s":"RTHS -- PSD","x":2.35,"y":112},{"s":"RTHS -- PSD","x":2.1,"y":108},{"s":"RTHS -- PSD","x":1.8,"y":95},{"s":"RTHS -- PSD","x":1.5,"y":82},{"s":"RTHS -- PSD","x":1.2,"y":70},{"s":"RTHS -- PSD","x":0.9,"y":58},{"s":"RTHS -- PSD","x":0.6,"y":45},{"s":"RTHS -- PSD","x":0.35,"y":32},{"s":"RTHS -- PSD","x":0.15,"y":14},{"s":"RTHS -- PSD","x":0,"y":0},
{"s":"RTHS -- PSD","x":-0.4,"y":-3},{"s":"RTHS -- PSD","x":-0.8,"y":-10},{"s":"RTHS -- PSD","x":-1.1,"y":-20},{"s":"RTHS -- PSD","x":-1.4,"y":-38},{"s":"RTHS -- PSD","x":-1.7,"y":-55},{"s":"RTHS -- PSD","x":-2.0,"y":-72},{"s":"RTHS -- PSD","x":-2.3,"y":-88},{"s":"RTHS -- PSD","x":-2.6,"y":-98},{"s":"RTHS -- PSD","x":-2.9,"y":-102},{"s":"RTHS -- PSD","x":-3.1,"y":-112},{"s":"RTHS -- PSD","x":-3.3,"y":-130},{"s":"RTHS -- PSD","x":-3.5,"y":-150},{"s":"RTHS -- PSD","x":-3.7,"y":-172},{"s":"RTHS -- PSD","x":-3.9,"y":-192},{"s":"RTHS -- PSD","x":-4.1,"y":-215},{"s":"RTHS -- PSD","x":-4.25,"y":-235},{"s":"RTHS -- PSD","x":-4.33,"y":-249},{"s":"RTHS -- PSD","x":-4.28,"y":-238},{"s":"RTHS -- PSD","x":-4.2,"y":-225},{"s":"RTHS -- PSD","x":-4.0,"y":-220},{"s":"RTHS -- PSD","x":-3.8,"y":-220},{"s":"RTHS -- PSD","x":-3.6,"y":-215},{"s":"RTHS -- PSD","x":-3.4,"y":-205},{"s":"RTHS -- PSD","x":-3.2,"y":-190},{"s":"RTHS -- PSD","x":-2.95,"y":-168},{"s":"RTHS -- PSD","x":-2.7,"y":-145},{"s":"RTHS -- PSD","x":-2.45,"y":-125},{"s":"RTHS -- PSD","x":-2.2,"y":-110},{"s":"RTHS -- PSD","x":-1.9,"y":-100},{"s":"RTHS -- PSD","x":-1.5,"y":-88},{"s":"RTHS -- PSD","x":-1.1,"y":-75},{"s":"RTHS -- PSD","x":-0.8,"y":-62},{"s":"RTHS -- PSD","x":-0.6,"y":-48},{"s":"RTHS -- PSD","x":-0.35,"y":-28},{"s":"RTHS -- PSD","x":-0.15,"y":-10},{"s":"RTHS -- PSD","x":0,"y":0}
],
"botB": [
{"s":"SC-CLT wall -- no PSD","x":0,"y":0},{"s":"SC-CLT wall -- no PSD","x":0.15,"y":25},{"s":"SC-CLT wall -- no PSD","x":0.3,"y":38},{"s":"SC-CLT wall -- no PSD","x":0.5,"y":46},{"s":"SC-CLT wall -- no PSD","x":0.7,"y":52},{"s":"SC-CLT wall -- no PSD","x":0.9,"y":58},{"s":"SC-CLT wall -- no PSD","x":1.1,"y":62},{"s":"SC-CLT wall -- no PSD","x":0.9,"y":55},{"s":"SC-CLT wall -- no PSD","x":0.7,"y":50},{"s":"SC-CLT wall -- no PSD","x":0.45,"y":42},{"s":"SC-CLT wall -- no PSD","x":0.2,"y":25},{"s":"SC-CLT wall -- no PSD","x":0,"y":0},
{"s":"SC-CLT wall -- no PSD","x":-0.15,"y":-22},{"s":"SC-CLT wall -- no PSD","x":-0.3,"y":-35},{"s":"SC-CLT wall -- no PSD","x":-0.5,"y":-48},{"s":"SC-CLT wall -- no PSD","x":-0.65,"y":-60},{"s":"SC-CLT wall -- no PSD","x":-0.8,"y":-72},{"s":"SC-CLT wall -- no PSD","x":-0.85,"y":-83},{"s":"SC-CLT wall -- no PSD","x":-0.95,"y":-78},{"s":"SC-CLT wall -- no PSD","x":-0.8,"y":-66},{"s":"SC-CLT wall -- no PSD","x":-0.6,"y":-55},{"s":"SC-CLT wall -- no PSD","x":-0.4,"y":-44},{"s":"SC-CLT wall -- no PSD","x":-0.2,"y":-28},{"s":"SC-CLT wall -- no PSD","x":0,"y":0},
{"s":"SC-CLT wall -- no PSD","x":0.25,"y":35},{"s":"SC-CLT wall -- no PSD","x":0.5,"y":48},{"s":"SC-CLT wall -- no PSD","x":0.8,"y":58},{"s":"SC-CLT wall -- no PSD","x":1.1,"y":68},{"s":"SC-CLT wall -- no PSD","x":1.4,"y":80},{"s":"SC-CLT wall -- no PSD","x":1.7,"y":92},{"s":"SC-CLT wall -- no PSD","x":2.0,"y":102},{"s":"SC-CLT wall -- no PSD","x":2.3,"y":112},{"s":"SC-CLT wall -- no PSD","x":2.6,"y":126},{"s":"SC-CLT wall -- no PSD","x":2.5,"y":118},{"s":"SC-CLT wall -- no PSD","x":2.2,"y":100},{"s":"SC-CLT wall -- no PSD","x":2.0,"y":85},{"s":"SC-CLT wall -- no PSD","x":1.8,"y":72},{"s":"SC-CLT wall -- no PSD","x":1.6,"y":72},{"s":"SC-CLT wall -- no PSD","x":1.35,"y":68},{"s":"SC-CLT wall -- no PSD","x":1.1,"y":62},{"s":"SC-CLT wall -- no PSD","x":0.8,"y":54},{"s":"SC-CLT wall -- no PSD","x":0.5,"y":45},{"s":"SC-CLT wall -- no PSD","x":0.25,"y":32},{"s":"SC-CLT wall -- no PSD","x":0,"y":0},
{"s":"SC-CLT wall -- no PSD","x":-0.3,"y":-35},{"s":"SC-CLT wall -- no PSD","x":-0.7,"y":-52},{"s":"SC-CLT wall -- no PSD","x":-1.1,"y":-68},{"s":"SC-CLT wall -- no PSD","x":-1.5,"y":-80},{"s":"SC-CLT wall -- no PSD","x":-1.9,"y":-90},{"s":"SC-CLT wall -- no PSD","x":-2.3,"y":-98},{"s":"SC-CLT wall -- no PSD","x":-2.7,"y":-108},{"s":"SC-CLT wall -- no PSD","x":-3.1,"y":-122},{"s":"SC-CLT wall -- no PSD","x":-3.5,"y":-140},{"s":"SC-CLT wall -- no PSD","x":-3.7,"y":-148},{"s":"SC-CLT wall -- no PSD","x":-3.5,"y":-145},{"s":"SC-CLT wall -- no PSD","x":-3.1,"y":-132},{"s":"SC-CLT wall -- no PSD","x":-2.7,"y":-118},{"s":"SC-CLT wall -- no PSD","x":-2.3,"y":-105},{"s":"SC-CLT wall -- no PSD","x":-1.9,"y":-94},{"s":"SC-CLT wall -- no PSD","x":-1.5,"y":-84},{"s":"SC-CLT wall -- no PSD","x":-1.1,"y":-72},{"s":"SC-CLT wall -- no PSD","x":-0.7,"y":-56},{"s":"SC-CLT wall -- no PSD","x":-0.35,"y":-40},{"s":"SC-CLT wall -- no PSD","x":0,"y":0},
{"s":"SC-CLT wall -- no PSD","x":0.3,"y":40},{"s":"SC-CLT wall -- no PSD","x":0.7,"y":55},{"s":"SC-CLT wall -- no PSD","x":1.1,"y":68},{"s":"SC-CLT wall -- no PSD","x":1.5,"y":82},{"s":"SC-CLT wall -- no PSD","x":1.9,"y":96},{"s":"SC-CLT wall -- no PSD","x":2.3,"y":110},{"s":"SC-CLT wall -- no PSD","x":2.7,"y":124},{"s":"SC-CLT wall -- no PSD","x":3.1,"y":138},{"s":"SC-CLT wall -- no PSD","x":3.4,"y":150},{"s":"SC-CLT wall -- no PSD","x":3.55,"y":168},{"s":"SC-CLT wall -- no PSD","x":3.67,"y":189},{"s":"SC-CLT wall -- no PSD","x":3.85,"y":188},{"s":"SC-CLT wall -- no PSD","x":4.05,"y":183},{"s":"SC-CLT wall -- no PSD","x":4.3,"y":179},{"s":"SC-CLT wall -- no PSD","x":4.64,"y":180},{"s":"SC-CLT wall -- no PSD","x":4.9,"y":195},{"s":"SC-CLT wall -- no PSD","x":5.13,"y":212},{"s":"SC-CLT wall -- no PSD","x":5.4,"y":222},{"s":"SC-CLT wall -- no PSD","x":5.61,"y":238},{"s":"SC-CLT wall -- no PSD","x":5.75,"y":236},{"s":"SC-CLT wall -- no PSD","x":5.72,"y":222},{"s":"SC-CLT wall -- no PSD","x":5.71,"y":214},{"s":"SC-CLT wall -- no PSD","x":5.5,"y":211},{"s":"SC-CLT wall -- no PSD","x":5.3,"y":210},{"s":"SC-CLT wall -- no PSD","x":5.1,"y":200},{"s":"SC-CLT wall -- no PSD","x":4.9,"y":186},{"s":"SC-CLT wall -- no PSD","x":4.65,"y":176},{"s":"SC-CLT wall -- no PSD","x":4.4,"y":170},{"s":"SC-CLT wall -- no PSD","x":4.1,"y":165},{"s":"SC-CLT wall -- no PSD","x":3.8,"y":158},{"s":"SC-CLT wall -- no PSD","x":3.5,"y":148},{"s":"SC-CLT wall -- no PSD","x":3.2,"y":138},{"s":"SC-CLT wall -- no PSD","x":2.9,"y":128},{"s":"SC-CLT wall -- no PSD","x":2.6,"y":118},{"s":"SC-CLT wall -- no PSD","x":2.3,"y":108},{"s":"SC-CLT wall -- no PSD","x":2.0,"y":98},{"s":"SC-CLT wall -- no PSD","x":1.6,"y":85},{"s":"SC-CLT wall -- no PSD","x":1.2,"y":70},{"s":"SC-CLT wall -- no PSD","x":0.8,"y":58},{"s":"SC-CLT wall -- no PSD","x":0.45,"y":45},{"s":"SC-CLT wall -- no PSD","x":0.2,"y":25},{"s":"SC-CLT wall -- no PSD","x":0,"y":0},
{"s":"SC-CLT wall -- no PSD","x":-0.3,"y":-35},{"s":"SC-CLT wall -- no PSD","x":-0.8,"y":-56},{"s":"SC-CLT wall -- no PSD","x":-1.3,"y":-76},{"s":"SC-CLT wall -- no PSD","x":-1.8,"y":-92},{"s":"SC-CLT wall -- no PSD","x":-2.3,"y":-105},{"s":"SC-CLT wall -- no PSD","x":-2.8,"y":-120},{"s":"SC-CLT wall -- no PSD","x":-3.3,"y":-138},{"s":"SC-CLT wall -- no PSD","x":-3.8,"y":-152},{"s":"SC-CLT wall -- no PSD","x":-4.2,"y":-164},{"s":"SC-CLT wall -- no PSD","x":-4.6,"y":-178},{"s":"SC-CLT wall -- no PSD","x":-5.0,"y":-192},{"s":"SC-CLT wall -- no PSD","x":-5.3,"y":-200},{"s":"SC-CLT wall -- no PSD","x":-5.5,"y":-208},{"s":"SC-CLT wall -- no PSD","x":-5.64,"y":-220},{"s":"SC-CLT wall -- no PSD","x":-5.8,"y":-232},{"s":"SC-CLT wall -- no PSD","x":-5.9,"y":-240},{"s":"SC-CLT wall -- no PSD","x":-5.95,"y":-232},{"s":"SC-CLT wall -- no PSD","x":-5.85,"y":-218},{"s":"SC-CLT wall -- no PSD","x":-5.6,"y":-205},{"s":"SC-CLT wall -- no PSD","x":-5.3,"y":-197},{"s":"SC-CLT wall -- no PSD","x":-5.06,"y":-195},{"s":"SC-CLT wall -- no PSD","x":-4.8,"y":-198},{"s":"SC-CLT wall -- no PSD","x":-4.5,"y":-200},{"s":"SC-CLT wall -- no PSD","x":-4.3,"y":-194},{"s":"SC-CLT wall -- no PSD","x":-4.1,"y":-186},{"s":"SC-CLT wall -- no PSD","x":-3.8,"y":-170},{"s":"SC-CLT wall -- no PSD","x":-3.5,"y":-155},{"s":"SC-CLT wall -- no PSD","x":-3.1,"y":-140},{"s":"SC-CLT wall -- no PSD","x":-2.7,"y":-124},{"s":"SC-CLT wall -- no PSD","x":-2.3,"y":-110},{"s":"SC-CLT wall -- no PSD","x":-1.9,"y":-98},{"s":"SC-CLT wall -- no PSD","x":-1.5,"y":-86},{"s":"SC-CLT wall -- no PSD","x":-1.1,"y":-72},{"s":"SC-CLT wall -- no PSD","x":-0.7,"y":-55},{"s":"SC-CLT wall -- no PSD","x":-0.35,"y":-38},{"s":"SC-CLT wall -- no PSD","x":0,"y":0}
]
},
"vconcat": [
{
  "width": 1459, "height": 1152,
  "title": {"text": "1989 Loma Prieta, California earthquake", "dx": -9},
  "layer": [
    {
      "data": {"name": "topR"},
      "mark": {"type": "line", "interpolate": "catmull-rom", "strokeWidth": 6, "clip": true},
      "encoding": {
        "x": {"field": "x", "type": "quantitative", "scale": {"domain": [-3, 5], "nice": false, "zero": false}, "axis": {"orient": "bottom", "values": [-3,-2,-1,0,1,2,3,4,5], "title": null, "labelExpr": "datum.value + ''", "labelOffset": {"condition": {"test": "datum.value == -3", "value": 27}, "value": 0}}},
        "y": {"field": "y", "type": "quantitative", "scale": {"domain": [-150, 200], "nice": false, "zero": false}, "axis": {"orient": "left", "values": [-150,-100,-50,0,50,100,150,200], "labelExpr": "datum.value + ''", "title": "base shear force [kN]", "titleX": -235, "titleY": 568, "titleAngle": 270, "titleBaseline": "alphabetic", "titleAlign": "center"}},
        "color": {"field": "s", "type": "nominal", "scale": {"domain": ["SC-CLT wall -- no PSD", "RTHS -- PSD"], "range": ["#1c1ce6", "#ec1c1c"]}, "legend": {"orient": "none", "legendX": 429, "legendY": 970, "title": "."}},
        "strokeDash": {"field": "s", "type": "nominal", "scale": {"domain": ["SC-CLT wall -- no PSD", "RTHS -- PSD"], "range": [[14, 9], [1, 0]]}, "legend": {"orient": "none", "legendX": 429, "legendY": 970, "title": "."}},
        "order": {"value": null}
      }
    },
    {
      "data": {"name": "topB"},
      "mark": {"type": "line", "interpolate": "catmull-rom", "strokeWidth": 4.5, "clip": true},
      "encoding": {
        "x": {"field": "x", "type": "quantitative", "axis": {"orient": "top", "values": [-3,-2,-1,0,1,2,3,4,5], "labels": false, "title": null}},
        "y": {"field": "y", "type": "quantitative", "axis": {"orient": "right", "values": [-150,-100,-50,0,50,100,150,200], "labels": false, "title": null}},
        "color": {"field": "s", "type": "nominal"},
        "strokeDash": {"field": "s", "type": "nominal"},
        "order": {"value": null}
      }
    }
  ],
  "resolve": {"axis": {"x": "independent", "y": "independent"}}
},
{
  "width": 1458, "height": 1150,
  "title": {"text": "1994 Northridge, California earthquake", "offset": -4},
  "layer": [
    {
      "data": {"name": "botR"},
      "mark": {"type": "line", "interpolate": "catmull-rom", "strokeWidth": 6, "clip": true},
      "encoding": {
        "x": {"field": "x", "type": "quantitative", "scale": {"domain": [-6, 6], "nice": false, "zero": false}, "axis": {"orient": "bottom", "values": [-6,-4,-2,0,2,4,6], "labelExpr": "datum.value + ''", "labelOffset": {"condition": {"test": "datum.value == -6", "value": 22}, "value": 0}, "title": "wall drift [%]", "titleX": 772, "titleY": 179, "titleBaseline": "alphabetic", "titleAlign": "center"}},
        "y": {"field": "y", "type": "quantitative", "scale": {"domain": [-300, 300], "nice": false, "zero": false}, "axis": {"orient": "left", "values": [-300,-200,-100,0,100,200,300], "labelExpr": "datum.value + ''", "title": "base shear force [kN]", "titleX": -235, "titleY": 565, "titleAngle": 270, "titleBaseline": "alphabetic", "titleAlign": "center"}},
        "color": {"field": "s", "type": "nominal", "scale": {"domain": ["SC-CLT wall -- no PSD", "RTHS -- PSD"], "range": ["#1c1ce6", "#ec1c1c"]}, "legend": {"orient": "none", "legendX": 429, "legendY": 971, "title": "."}},
        "strokeDash": {"field": "s", "type": "nominal", "scale": {"domain": ["SC-CLT wall -- no PSD", "RTHS -- PSD"], "range": [[14, 9], [1, 0]]}, "legend": {"orient": "none", "legendX": 429, "legendY": 971, "title": "."}},
        "order": {"value": null}
      }
    },
    {
      "data": {"name": "botB"},
      "mark": {"type": "line", "interpolate": "catmull-rom", "strokeWidth": 4.5, "clip": true},
      "encoding": {
        "x": {"field": "x", "type": "quantitative", "axis": {"orient": "top", "values": [-6,-4,-2,0,2,4,6], "labels": false, "title": null}},
        "y": {"field": "y", "type": "quantitative", "axis": {"orient": "right", "values": [-300,-200,-100,0,100,200,300], "labels": false, "title": null}},
        "color": {"field": "s", "type": "nominal"},
        "strokeDash": {"field": "s", "type": "nominal"},
        "order": {"value": null}
      }
    }
  ],
  "resolve": {"axis": {"x": "independent", "y": "independent"}}
}
]
}
